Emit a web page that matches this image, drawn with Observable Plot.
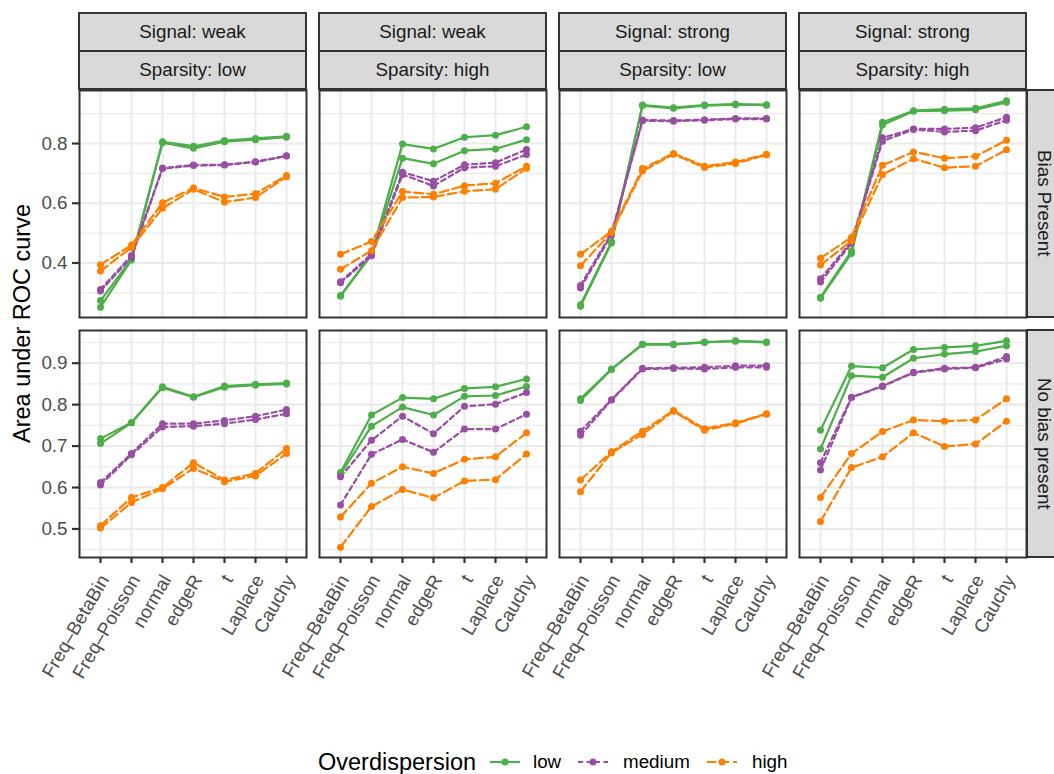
<!DOCTYPE html>
<html><head><meta charset="utf-8">
<script src="https://cdn.jsdelivr.net/npm/d3@7"></script>
<script src="https://cdn.jsdelivr.net/npm/@observablehq/plot@0.6"></script>
<style>
body{margin:0;background:#fff;}
#chart{position:relative;width:1054px;height:774px;overflow:hidden;font-family:"Liberation Sans",Arial,Helvetica,sans-serif;background:#fff;}
.strip{position:absolute;box-sizing:border-box;background:#D9D9D9;border:2px solid #333;color:#1A1A1A;font-size:18.8px;display:flex;align-items:center;justify-content:center;white-space:nowrap;}
.vstrip{justify-content:flex-start;padding-left:6px;border-right:none;}
.vstrip span{writing-mode:vertical-rl;line-height:1;}
.pan{position:absolute;}
.lab{position:absolute;white-space:nowrap;line-height:1;}
</style></head><body><div id="chart"></div>
<script>
// ---------- data ----------
const methods = ["Freq–BetaBin","Freq–Poisson","normal","edgeR","t","Laplace","Cauchy"];
const levels = ["low","medium","high"];
const signals = ["weak","weak","strong","strong"];
const sparsities = ["low","high","low","high"];
const biasRows = ["Bias Present","No bias present"];
const topMajor = [0.4,0.6,0.8], topMinor = [0.3,0.5,0.7,0.9];
const botMajor = [0.5,0.6,0.7,0.8,0.9], botMinor = [0.45,0.55,0.65,0.75,0.85,0.95];

// rows: low (2 runs), medium (2 runs), high (2 runs)
const weakLowBias = [
  [0.274,0.413,0.806,0.791,0.810,0.817,0.824],
  [0.252,0.410,0.803,0.784,0.806,0.813,0.821],
  [0.311,0.425,0.718,0.728,0.729,0.739,0.759],
  [0.306,0.419,0.716,0.726,0.728,0.738,0.758],
  [0.394,0.460,0.602,0.651,0.621,0.632,0.693],
  [0.373,0.452,0.583,0.647,0.604,0.619,0.689]];
const weakHighBias = [
  [0.291,0.430,0.798,0.782,0.821,0.828,0.856],
  [0.289,0.427,0.751,0.732,0.776,0.782,0.813],
  [0.337,0.430,0.704,0.674,0.729,0.736,0.780],
  [0.334,0.424,0.696,0.658,0.719,0.724,0.763],
  [0.429,0.472,0.639,0.630,0.659,0.667,0.724],
  [0.379,0.441,0.619,0.621,0.640,0.647,0.717]];
const strongLowBias = [
  [0.260,0.470,0.929,0.920,0.929,0.932,0.930],
  [0.255,0.467,0.927,0.918,0.927,0.930,0.928],
  [0.325,0.500,0.879,0.877,0.880,0.884,0.884],
  [0.316,0.494,0.876,0.875,0.878,0.882,0.882],
  [0.429,0.506,0.716,0.767,0.724,0.738,0.764],
  [0.391,0.502,0.708,0.764,0.720,0.733,0.762]];
const strongHighBias = [
  [0.285,0.440,0.871,0.910,0.915,0.918,0.943],
  [0.282,0.432,0.862,0.908,0.910,0.913,0.938],
  [0.347,0.472,0.819,0.849,0.849,0.853,0.888],
  [0.336,0.466,0.808,0.847,0.839,0.843,0.878],
  [0.416,0.486,0.727,0.772,0.751,0.757,0.811],
  [0.393,0.474,0.696,0.749,0.719,0.724,0.779]];
const weakLowNoBias = [
  [0.718,0.757,0.843,0.819,0.845,0.849,0.852],
  [0.706,0.756,0.841,0.818,0.842,0.847,0.850],
  [0.612,0.682,0.754,0.754,0.762,0.772,0.788],
  [0.606,0.679,0.746,0.748,0.754,0.764,0.778],
  [0.508,0.576,0.600,0.660,0.618,0.634,0.694],
  [0.502,0.564,0.597,0.646,0.614,0.628,0.682]];
const weakHighNoBias = [
  [0.636,0.775,0.817,0.814,0.839,0.843,0.862],
  [0.632,0.748,0.794,0.775,0.820,0.822,0.844],
  [0.626,0.714,0.772,0.730,0.796,0.801,0.829],
  [0.558,0.680,0.716,0.685,0.741,0.741,0.777],
  [0.529,0.610,0.650,0.634,0.668,0.674,0.732],
  [0.456,0.554,0.595,0.575,0.616,0.619,0.681]];
const strongLowNoBias = [
  [0.814,0.886,0.946,0.946,0.951,0.954,0.951],
  [0.810,0.885,0.945,0.945,0.950,0.953,0.950],
  [0.736,0.812,0.888,0.889,0.890,0.894,0.894],
  [0.726,0.811,0.886,0.887,0.886,0.890,0.890],
  [0.618,0.686,0.736,0.786,0.742,0.756,0.778],
  [0.590,0.684,0.728,0.784,0.738,0.754,0.777]];
const strongHighNoBias = [
  [0.738,0.893,0.889,0.933,0.938,0.942,0.954],
  [0.693,0.870,0.866,0.912,0.922,0.928,0.942],
  [0.660,0.818,0.845,0.878,0.888,0.890,0.916],
  [0.642,0.817,0.844,0.877,0.886,0.889,0.910],
  [0.576,0.682,0.735,0.763,0.760,0.763,0.814],
  [0.518,0.648,0.674,0.732,0.699,0.705,0.760]];

const panels = [
  [weakLowBias, weakHighBias, strongLowBias, strongHighBias],
  [weakLowNoBias, weakHighNoBias, strongLowNoBias, strongHighNoBias]];

// ---------- style ----------
const colors = ["#4DAF4A","#984EA3","#FF7F00"];
const dashes = [null,"5,3.5","9,4"];
const FONT = '"Liberation Sans",Arial,Helvetica,sans-serif';
const W = 227, H = 227;
const colX = [79,319,559,799], rowY = [90,330];
const chart = document.getElementById("chart");

function tidy(m){
  const out = [];
  m.forEach((vals,k)=>{
    vals.forEach((v,i)=>out.push({method:methods[i], auc:v, level:levels[k>>1], run:k%2}));
  });
  return out;
}
function rowDomain(r){
  const all = panels[r].flat(2);
  const [lo,hi] = d3.extent(all);
  const e = (hi-lo)*0.05;
  return [lo-e, hi+e];
}

for (let r=0;r<2;r++){
  const yDom = rowDomain(r);
  const major = r===0?topMajor:botMajor, minor = (r===0?topMinor:botMinor).filter(v=>v>yDom[0]&&v<yDom[1]);
  for (let c=0;c<4;c++){
    const rows = tidy(panels[r][c]);
    const mL = c===0?80:2, mB = r===1?160:2, mT = 2, mR = 2;
    const marks = [
      Plot.ruleY(minor,{stroke:"#EBEBEB",strokeWidth:1.1}),
      Plot.ruleY(major,{stroke:"#EBEBEB",strokeWidth:2.2}),
      Plot.ruleX(methods,{stroke:"#EBEBEB",strokeWidth:2.2}),
      ...levels.map((lv,j)=>Plot.line(rows.filter(d=>d.level===lv),{x:"method",y:"auc",z:"run",stroke:colors[j],strokeWidth:2.2,strokeDasharray:dashes[j]})),
      ...levels.map((lv,j)=>Plot.dot(rows.filter(d=>d.level===lv),{x:"method",y:"auc",fill:colors[j],r:3.5})),
      Plot.frame({stroke:"#333333",strokeWidth:2})
    ];
    if (c===0) marks.push(Plot.axisY(major,{tickSize:7,tickPadding:5,stroke:"#333333",strokeWidth:2.2,fill:"#4D4D4D",tickFormat:d=>d.toFixed(1),label:null,fontSize:18.8}));
    if (r===1){
      marks.push(Plot.axisX({tickSize:6,stroke:"#333333",strokeWidth:2.2,tickFormat:()=>"",label:null}));
      marks.push(Plot.text(methods,{x:d=>d,frameAnchor:"bottom",dy:19,dx:4,rotate:-60,textAnchor:"end",lineAnchor:"middle",fill:"#4D4D4D",fontSize:18.8}));
    }
    const svg = Plot.plot({
      width:W+mL+mR, height:H+mT+mB,
      marginLeft:mL, marginRight:mR, marginTop:mT, marginBottom:mB,
      x:{type:"point",domain:methods,padding:0.6,axis:null},
      y:{domain:yDom,axis:null},
      style:{background:"transparent",fontFamily:FONT,fontSize:"18.8px",overflow:"visible"},
      marks
    });
    svg.classList.add("pan");
    svg.style.left = (colX[c]-mL)+"px";
    svg.style.top = (rowY[r]-mT)+"px";
    chart.appendChild(svg);
  }
}

// strips
for (let c=0;c<4;c++){
  const s1 = document.createElement("div");
  s1.className="strip"; s1.style.left=(colX[c]-1)+"px"; s1.style.top="12px"; s1.style.width="229px"; s1.style.height="40px";
  s1.textContent = "Signal: "+signals[c]; chart.appendChild(s1);
  const s2 = document.createElement("div");
  s2.className="strip"; s2.style.left=(colX[c]-1)+"px"; s2.style.top="50px"; s2.style.width="229px"; s2.style.height="40px";
  s2.textContent = "Sparsity: "+sparsities[c]; chart.appendChild(s2);
}
for (let r=0;r<2;r++){
  const s = document.createElement("div");
  s.className="strip vstrip"; s.style.left="1026px"; s.style.top=(rowY[r]-1)+"px"; s.style.width="28px"; s.style.height="229px";
  const sp = document.createElement("span"); sp.textContent = biasRows[r]; s.appendChild(sp);
  chart.appendChild(s);
}

// y title
const yt = document.createElement("div");
yt.style.cssText = "position:absolute;left:9px;top:90px;width:26px;height:467px;display:flex;align-items:center;justify-content:center;font-size:23.5px;color:#000;";
const yts = document.createElement("span");
yts.style.cssText = "writing-mode:vertical-rl;transform:rotate(180deg);white-space:nowrap;";
yts.textContent = "Area under ROC curve";
yt.appendChild(yts); chart.appendChild(yt);

// legend
function addLab(text,left,size,color){
  const d=document.createElement("div"); d.className="lab";
  d.style.left=left+"px"; d.style.top=(763-size*0.52)+"px"; d.style.fontSize=size+"px"; d.style.color=color;
  d.textContent=text; chart.appendChild(d);
}
addLab("Overdispersion",318,23.5,"#000");
const keyX = [490,578,707], labX = [533,623,752];
levels.forEach((lv,j)=>{
  const ns="http://www.w3.org/2000/svg";
  const s=document.createElementNS(ns,"svg");
  s.setAttribute("width","30"); s.setAttribute("height","14");
  s.style.cssText=`position:absolute;left:${keyX[j]}px;top:755px;`;
  const l=document.createElementNS(ns,"line");
  l.setAttribute("x1","0");l.setAttribute("x2","30");l.setAttribute("y1","7");l.setAttribute("y2","7");
  l.setAttribute("stroke",colors[j]);l.setAttribute("stroke-width","2.2");
  if(dashes[j]) l.setAttribute("stroke-dasharray",dashes[j]);
  const p=document.createElementNS(ns,"circle");
  p.setAttribute("cx","15");p.setAttribute("cy","7");p.setAttribute("r","3.5");p.setAttribute("fill",colors[j]);
  s.appendChild(l); s.appendChild(p); chart.appendChild(s);
  addLab(lv,labX[j],18.8,"#000");
});
</script></body></html>
